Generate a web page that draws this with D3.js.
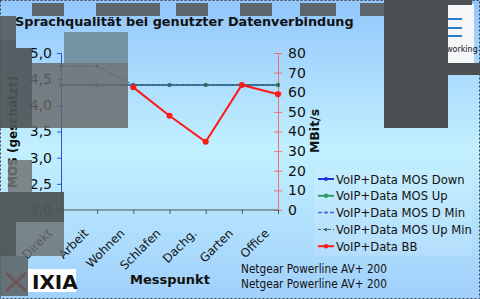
<!DOCTYPE html>
<html>
<head>
<meta charset="utf-8">
<script src="https://cdn.jsdelivr.net/npm/d3@7"></script>
<style>
  body { margin: 0; background: #fff; }
  svg text { font-family: "DejaVu Sans", Verdana, sans-serif; fill: #111; }
</style>
</head>
<body>
<div id="chart"></div>
<script>
var categories = ["Direkt", "Arbeit", "Wohnen", "Schlafen", "Dachg.", "Garten", "Office"];
var mosDown = [4.39, 4.39, 4.39, 4.39, 4.39, 4.39, 4.39];
var mosUp = [4.39, 4.39, 4.39, 4.39, 4.39, 4.39, 4.39];
var mosDMin = [4.39, 4.39, 4.39, 4.39, 4.39, 4.39, 4.39];
var mosUpMin = [4.75, 4.75, 4.39, 4.39, 4.39, 4.39, 4.39];
var bbValues = [null, null, 62.5, 48, 34.8, 63.7, 59];
var mosTicks = ["5,0", "4,5", "4,0", "3,5", "3,0", "2,5", "2,0"];
var mbitTicks = [0, 10, 20, 30, 40, 50, 60, 70, 80];

var width = 480, height = 299;
var svg = d3.select("#chart").append("svg")
    .attr("width", width)
    .attr("height", height);

// background gradient
var defs = svg.append("defs");
var grad = defs.append("linearGradient").attr("id", "bg")
    .attr("x1", 0).attr("y1", 0).attr("x2", 0).attr("y2", 1);
grad.append("stop").attr("offset", "0%").attr("stop-color", "#92c6fb");
grad.append("stop").attr("offset", "50%").attr("stop-color", "#c2f0ff");
grad.append("stop").attr("offset", "100%").attr("stop-color", "#a0d0fb");
svg.append("rect").attr("width", width).attr("height", height).attr("fill", "url(#bg)");
svg.append("rect").attr("x", 0.5).attr("y", 0.5).attr("width", width - 1).attr("height", height - 1)
    .attr("fill", "none").attr("stroke", "#444").attr("stroke-dasharray", "2,2");

var x = d3.scalePoint().domain(categories).range([61, 278]);
var yMos = d3.scaleLinear().domain([2, 5]).range([210, 53]);
var yBB = d3.scaleLinear().domain([0, 80]).range([210, 53]);

svg.append("text").attr("x", 15).attr("y", 26)
    .attr("font-size", 12.8).attr("font-weight", "bold")
    .text("Sprachqualität bei genutzter Datenverbindung");

// left axis
var leftAxis = d3.axisLeft(yMos).tickValues([5, 4.5, 4, 3.5, 3, 2.5, 2])
    .tickFormat(function (d, i) { return mosTicks[i]; }).tickSize(4);
var gl = svg.append("g").attr("transform", "translate(61,0)").call(leftAxis);
gl.select(".domain").attr("stroke", "#3050e0");
gl.selectAll(".tick line").attr("stroke", "#3050e0");
gl.selectAll(".tick text").attr("font-size", 14).attr("x", -9).attr("fill", "#111");

// right axis
var rightAxis = d3.axisRight(yBB).tickValues(mbitTicks).tickSize(4);
var gr = svg.append("g").attr("transform", "translate(278,0)").call(rightAxis);
gr.select(".domain").attr("stroke", "#ee7070");
gr.selectAll(".tick line").attr("stroke", "#ee7070").attr("x1", -4);
gr.selectAll(".tick text").attr("font-size", 14).attr("x", 10).attr("fill", "#111");

// x axis
var xAxis = d3.axisBottom(x).tickSize(4).tickFormat("");
var gx = svg.append("g").attr("transform", "translate(0,210)").call(xAxis);
gx.select(".domain").attr("stroke", "#555").attr("d", "M61,0H278");
gx.selectAll(".tick line").attr("stroke", "#555");

svg.append("g").selectAll("text").data(categories).enter().append("text")
    .attr("transform", function (d) { return "translate(" + (x(d) - 8) + ",234) rotate(-45)"; })
    .attr("text-anchor", "end")
    .attr("font-size", 12)
    .text(function (d) { return d; });

svg.append("text").attr("transform", "translate(17,132) rotate(-90)")
    .attr("text-anchor", "middle").attr("font-size", 12).attr("font-weight", "bold")
    .text("MOS (geschätzt)");
svg.append("text").attr("transform", "translate(319,131) rotate(-90)")
    .attr("text-anchor", "middle").attr("font-size", 12.5).attr("font-weight", "bold")
    .text("MBit/s");
svg.append("text").attr("x", 170).attr("y", 284).attr("text-anchor", "middle")
    .attr("font-size", 13).attr("font-weight", "bold").text("Messpunkt");
svg.append("text").attr("x", 241).attr("y", 273).attr("font-size", 11.5)
    .attr("textLength", 146).attr("lengthAdjust", "spacingAndGlyphs").text("Netgear Powerline AV+ 200");
svg.append("text").attr("x", 241).attr("y", 288).attr("font-size", 11.5)
    .attr("textLength", 146).attr("lengthAdjust", "spacingAndGlyphs").text("Netgear Powerline AV+ 200");

// series
var series = [
    { name: "VoIP+Data MOS Down", values: mosDown, y: yMos, color: "#1a36d8", width: 2, dash: null, r: 2 },
    { name: "VoIP+Data MOS Up", values: mosUp, y: yMos, color: "#2e9a68", width: 2, dash: null, r: 2.2 },
    { name: "VoIP+Data MOS D Min", values: mosDMin, y: yMos, color: "#3a66f0", width: 1.5, dash: "4,2", r: 1.2 },
    { name: "VoIP+Data MOS Up Min", values: mosUpMin, y: yMos, color: "#4c5a58", width: 1, dash: "3,2", r: 1.5 },
    { name: "VoIP+Data BB", values: bbValues, y: yBB, color: "#ff1818", width: 2, dash: null, r: 3 }
];

series.forEach(function (s) {
    var line = d3.line()
        .defined(function (d) { return d !== null; })
        .x(function (d, i) { return x(categories[i]); })
        .y(function (d) { return s.y(d); });
    svg.append("path").datum(s.values)
        .attr("fill", "none").attr("stroke", s.color)
        .attr("stroke-width", s.width)
        .attr("stroke-dasharray", s.dash)
        .attr("d", line);
    svg.append("g").selectAll("circle")
        .data(s.values.map(function (v, i) { return { v: v, c: categories[i] }; })
            .filter(function (d) { return d.v !== null; }))
        .enter().append("circle")
        .attr("cx", function (d) { return x(d.c); })
        .attr("cy", function (d) { return s.y(d.v); })
        .attr("r", s.r)
        .attr("fill", s.color);
});

// legend
svg.append("rect").attr("x", 314).attr("y", 170).attr("width", 158).attr("height", 86)
    .attr("fill", "#ffffff").attr("fill-opacity", 0.12);
var legend = svg.append("g").selectAll("g").data(series).enter().append("g")
    .attr("transform", function (d, i) { return "translate(318," + (179 + i * 16.8) + ")"; });
legend.append("line").attr("x1", 0).attr("x2", 16)
    .attr("stroke", function (d) { return d.color; })
    .attr("stroke-width", function (d) { return d.width; })
    .attr("stroke-dasharray", function (d) { return d.dash; });
legend.append("circle").attr("cx", 8).attr("r", function (d) { return Math.min(d.r, 2.2); })
    .attr("fill", function (d) { return d.color; });
legend.append("text").attr("x", 18).attr("y", 4.5).attr("font-size", 11.6)
    .text(function (d) { return d.name; });

// logos
svg.append("rect").attr("x", 28).attr("y", 269).attr("width", 48).attr("height", 23).attr("fill", "#fff");
svg.append("text").attr("x", 32).attr("y", 289).attr("font-size", 20).attr("font-weight", "bold")
    .attr("font-family", "Liberation Sans, Arial, sans-serif").text("IXIA");
svg.append("path").attr("d", "M6,273L26,291M26,273L6,291").attr("stroke", "#e02020").attr("stroke-width", 3);
svg.append("rect").attr("x", 448).attr("y", 4).attr("width", 26).attr("height", 59).attr("fill", "#f4f6f8");
svg.append("g").selectAll("path").data([19, 28, 36]).enter().append("path")
    .attr("d", function (d) { return "M448," + d + "H462"; })
    .attr("stroke", "#2a7ad0").attr("stroke-width", 2);
svg.append("text").attr("x", 446).attr("y", 52).attr("font-size", 8).attr("fill", "#333").text("working");

// grey occluding patches seen in the source image
var patches = [
    [64, 32, 64, 31, "#6c8792", 0.85],
    [32, 63, 96, 65, "#666", 0.82],
    [0, 40, 16, 23, "#4e5456", 0.92],
    [16, 48, 16, 15, "#4e5456", 0.92],
    [0, 63, 32, 65, "#4e5456", 0.92],
    [8, 160, 24, 32, "#707474", 0.85],
    [0, 192, 64, 30, "#4d5555", 0.95],
    [0, 222, 16, 34, "#4d5555", 0.95],
    [16, 222, 48, 34, "#6a6e6e", 0.8],
    [0, 256, 28, 40, "#5b6062", 0.85],
    [384, 0, 64, 128, "#4b5153", 1],
    [448, 0, 24, 5, "#4b5153", 1],
    [448, 63, 32, 12, "#4b5153", 1],
    [32, 3, 32, 13, "#555b5d", 0.9],
    [96, 3, 64, 13, "#555b5d", 0.9],
    [176, 3, 32, 13, "#555b5d", 0.9],
    [240, 3, 32, 13, "#555b5d", 0.9],
    [300, 3, 36, 13, "#555b5d", 0.9],
    [360, 3, 24, 13, "#555b5d", 0.9],
    [0, 16, 16, 24, "#555b5d", 0.9]
];
svg.append("g").selectAll("rect").data(patches).enter().append("rect")
    .attr("x", function (d) { return d[0]; })
    .attr("y", function (d) { return d[1]; })
    .attr("width", function (d) { return d[2]; })
    .attr("height", function (d) { return d[3]; })
    .attr("fill", function (d) { return d[4]; })
    .attr("fill-opacity", function (d) { return d[5]; });
</script>
</body>
</html>
